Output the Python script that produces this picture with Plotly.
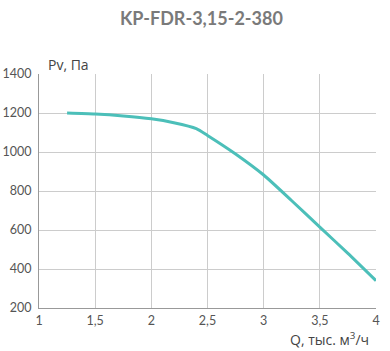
import plotly.graph_objects as go

q = [1.25, 1.5, 1.75, 2.0, 2.2, 2.4, 2.5, 2.75, 3.0, 3.25, 3.5, 3.75, 4.0]
pv = [1200, 1195, 1185, 1170, 1150, 1120, 1085, 990, 882, 750, 615, 480, 340]

x_ticks = [1, 1.5, 2, 2.5, 3, 3.5, 4]
x_labels = ["1", "1,5", "2", "2,5", "3", "3,5", "4"]
y_ticks = [200, 400, 600, 800, 1000, 1200, 1400]
y_labels = ["200", "400", "600", "800", "1000", "1200", "1400"]

title = "KP-FDR-3,15-2-380"
y_title = "Pv, Па"
x_title = "Q, тыс. м<sup>3</sup>/ч"

L, R, T, B, W, H = 39, 14, 74, 43, 390, 351
pw, ph = W - L - R, H - T - B

fig = go.Figure()
fig.add_trace(go.Scatter(x=q, y=pv, mode="lines",
                         line=dict(color="#4cbfb9", width=3, shape="spline", smoothing=0.6),
                         hoverinfo="skip"))

tick_font = dict(family="Lato, sans-serif", size=12.5, color="#555555")
fig.update_layout(
    width=W, height=H,
    margin=dict(l=L, r=R, t=T, b=B),
    paper_bgcolor="white", plot_bgcolor="white",
    showlegend=False,
    xaxis=dict(range=[1, 4], tickvals=x_ticks, ticktext=x_labels, showgrid=True, gridcolor="#cccccc", gridwidth=1,
               showline=True, linecolor="#999999", linewidth=1, ticks="", tickfont=tick_font, zeroline=False,
               automargin=False, ticklabelstandoff=1),
    yaxis=dict(range=[200, 1400], tickvals=y_ticks, ticktext=y_labels, showgrid=True, gridcolor="#cccccc", gridwidth=1,
               showline=True, linecolor="#999999", linewidth=1, ticks="", tickfont=tick_font, zeroline=False,
               automargin=False, ticklabelstandoff=4),
    annotations=[
        dict(text="<b>" + title + "</b>", x=(201 - L) / pw, y=1 + (T - 18) / ph, xref="paper", yref="paper",
             showarrow=False, font=dict(family="Lato, sans-serif", size=18, color="#7a7a7a"),
             xanchor="center", yanchor="middle"),
        dict(text=y_title, x=(46 - L) / pw, y=1 + (T - 65) / ph, xref="paper", yref="paper", showarrow=False,
             xanchor="left", yanchor="middle", font=dict(family="Open Sans, sans-serif", size=14, color="#444444")),
        dict(text=x_title, x=(371 - L) / pw, y=-(339 - (T + ph)) / ph, xref="paper", yref="paper", showarrow=False,
             xanchor="right", yanchor="middle", font=dict(family="Open Sans, sans-serif", size=14, color="#444444")),
    ],
)

fig.write_html("out.html")
